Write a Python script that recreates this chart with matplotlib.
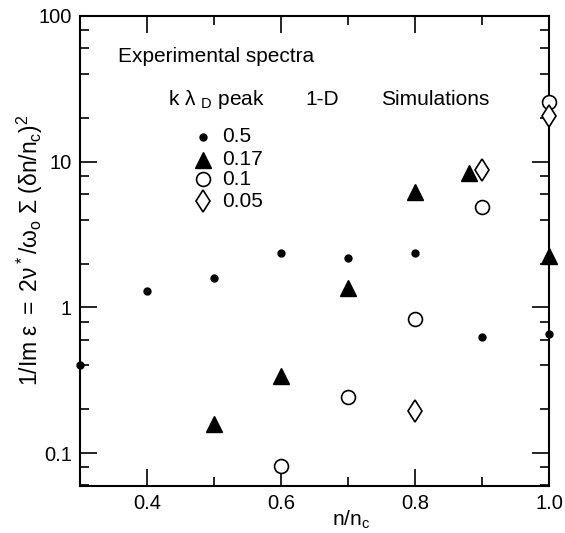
import matplotlib
matplotlib.use('Agg')
import matplotlib.pyplot as plt
from matplotlib.ticker import LogLocator, FixedLocator, NullFormatter

plt.rcParams['font.family'] = ['Liberation Sans', 'DejaVu Sans']
plt.rcParams['mathtext.fontset'] = 'custom'
plt.rcParams['mathtext.rm'] = 'Liberation Sans'
plt.rcParams['mathtext.it'] = 'Liberation Sans'
plt.rcParams['mathtext.bf'] = 'Liberation Sans:bold'

# data
x_05 = [0.3, 0.4, 0.5, 0.6, 0.7, 0.8, 0.9, 1.0]
y_05 = [0.40, 1.3, 1.58, 2.35, 2.18, 2.35, 0.63, 0.66]

x_017 = [0.5, 0.6, 0.7, 0.8, 0.88, 1.0]
y_017 = [0.158, 0.34, 1.35, 6.2, 8.3, 2.25]

x_01 = [0.6, 0.7, 0.8, 0.9, 1.0]
y_01 = [0.081, 0.242, 0.83, 4.9, 25.8]

x_005 = [0.8, 0.9, 1.0]
y_005 = [0.194, 8.8, 20.7]

legend_labels = ['0.5', '0.17', '0.1', '0.05']
xtick_vals = [0.4, 0.6, 0.8, 1.0]
xtick_labels = ['0.4', '0.6', '0.8', '1.0']
xminor_vals = [0.5, 0.7, 0.9]
ytick_vals = [0.1, 1, 10, 100]
ytick_labels = ['0.1', '1', '10', '100']

fig = plt.figure(figsize=(5.65, 5.33), dpi=100)
ax = fig.add_axes([0.1416, 0.0882, 0.830, 0.8818])
ax.set_yscale('log')
ax.set_xlim(0.3, 1.0)
ax.set_ylim(0.0595, 100)

styles = [
    dict(marker='o', ms=5, mfc='k', mec='k'),
    dict(marker='^', ms=11, mfc='k', mec='k'),
    dict(marker='o', ms=10, mfc='white', mec='k', mew=1.2),
    dict(marker='d', ms=11.5, mfc='white', mec='k', mew=1.2),
]
series = [(x_05, y_05), (x_017, y_017), (x_01, y_01), (x_005, y_005)]
for (xs, ys), st in zip(series, styles):
    ax.plot(xs, ys, ls='none', clip_on=False, zorder=5, **st)

# hand-made legend, as in the original
leg_y = [0.743, 0.694, 0.653, 0.606]
for ly, lab, st in zip(leg_y, legend_labels, styles):
    ax.plot([0.262], [ly], transform=ax.transAxes, ls='none', clip_on=False, **st)
    ax.text(0.303, ly, lab, transform=ax.transAxes, fontsize=15, va='center', ha='left')

ax.text(0.081, 0.913, 'Experimental spectra', transform=ax.transAxes,
        fontsize=15, va='center', ha='left')
ax.text(0.188, 0.823, r'k $\lambda$ $_{\mathrm{D}}$ peak', transform=ax.transAxes,
        fontsize=15, va='center', ha='left')
ax.text(0.48, 0.823, '1-D', transform=ax.transAxes,
        fontsize=15, va='center', ha='left')
ax.text(0.642, 0.823, 'Simulations', transform=ax.transAxes,
        fontsize=15, va='center', ha='left')

ax.xaxis.set_major_locator(FixedLocator(xtick_vals))
ax.set_xticklabels(xtick_labels)
ax.xaxis.set_minor_locator(FixedLocator(xminor_vals))
ax.yaxis.set_major_locator(FixedLocator(ytick_vals))
ax.set_yticklabels(ytick_labels)
ax.yaxis.set_minor_locator(LogLocator(base=10, subs=(2, 4, 6, 8)))
ax.yaxis.set_minor_formatter(NullFormatter())

ax.tick_params(which='both', direction='in', top=True, right=True,
               labelsize=14.5, width=1.2)
ax.tick_params(which='major', length=12, pad=6)
ax.tick_params(which='minor', length=6.5)
for sp in ax.spines.values():
    sp.set_linewidth(1.5)

fig.text(30 / 565, 0.53,
         r'$1/\mathrm{Im}\ \epsilon\ =\ 2\nu^*/\omega_\mathrm{o}\ \Sigma\ (\delta n/n_\mathrm{c})^2$',
         fontsize=16.5, rotation=90, ha='center', va='center')
fig.text(0.621, 0.004, r'$n/n_\mathrm{c}$', fontsize=15, ha='center', va='bottom')

fig.savefig('out.png', dpi=100)
